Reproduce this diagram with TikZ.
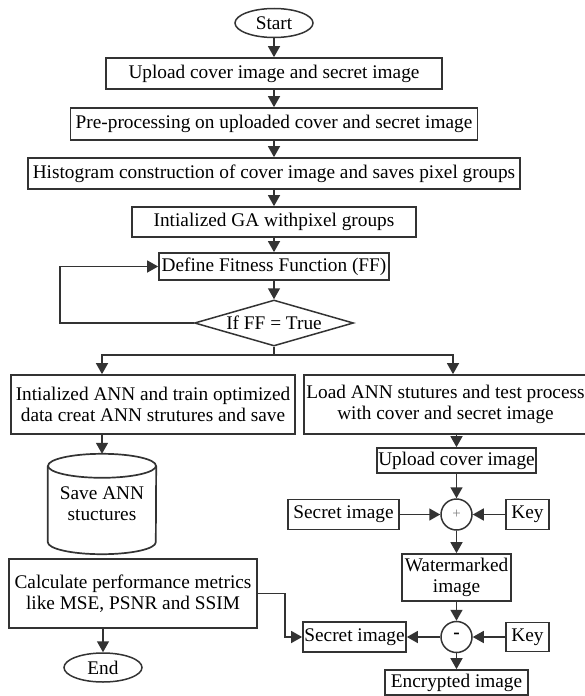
\documentclass[tikz,border=0pt]{standalone}
\usepackage{fontspec}
\setmainfont{Liberation Serif}
\usetikzlibrary{arrows.meta,shapes.geometric}
\definecolor{edge}{HTML}{333333}
\begin{document}
\begin{tikzpicture}[x=1pt,y=-1pt,
  every node/.style={font=\fontsize{19.3}{21}\selectfont, text=black, inner sep=0pt},
  box/.style={draw=edge, line width=1.7pt, rectangle, align=center},
  oval/.style={draw=edge, line width=1.5pt, ellipse},
  ring/.style={draw=edge, line width=1.5pt, circle, minimum size=31pt},
  conn/.style={draw=edge, line width=1.5pt, -{Triangle[length=11pt,width=12pt]}},
  plain/.style={draw=edge, line width=1.5pt}
]
\useasboundingbox (0,0) rectangle (585,696);

% main column
\node[oval, minimum width=78pt, minimum height=29pt] (start) at (274,23) {Start};
\node[box, minimum width=336pt, minimum height=31pt] (up1) at (274,73.5) {Upload cover image and secret image};
\node[box, minimum width=407pt, minimum height=32pt] (pre) at (274,124) {Pre-processing on uploaded cover and secret image};
\node[box, minimum width=492pt, minimum height=31pt] (hist) at (274,173.5) {Histogram construction of cover image and saves pixel groups};
\node[box, minimum width=284pt, minimum height=30pt] (ga) at (274,222) {Intialized GA withpixel groups};
\node[box, minimum width=230pt, minimum height=27pt] (ff) at (274,266.5) {Define Fitness Function (FF)};
\node[draw=edge, line width=1.5pt, diamond, aspect=3.46, minimum width=159pt, minimum height=46pt] (dia) at (274,323) {If FF = True};

% left branch
\node[box, minimum width=284pt, minimum height=59pt] (ann) at (153,404.5) {Intialized ANN and train optimized\\data creat ANN strutures and save};
\node[minimum width=108pt, minimum height=100pt, align=center] (cyl) at (102,504) {Save ANN\\stuctures};
\node[box, minimum width=248pt, minimum height=69pt] (calc) at (133,593.5) {Calculate performance metrics\\like MSE, PSNR and SSIM};
\node[oval, minimum width=78pt, minimum height=29pt] (end) at (103,667.5) {End};

% right branch
\node[box, minimum width=283pt, minimum height=59pt] (load) at (445.5,404.5) {Load ANN stutures and test process\\with cover and secret image};
\node[box, minimum width=159pt, minimum height=25pt] (upc) at (456.5,460.5) {Upload cover image};
\node[ring] (plus) at (456.5,514.5) {\textcolor{gray}{\fontsize{15}{15}\selectfont +}};
\node[box, minimum width=111pt, minimum height=30pt] (sec1) at (343.5,514.5) {Secret image};
\node[box, minimum width=43pt, minimum height=30pt] (key1) at (527.5,514.5) {Key};
\node[box, minimum width=109pt, minimum height=47pt] (wm) at (456.5,577.5) {Watermarked\\image};
\node[ring] (minus) at (456.5,637) {\raisebox{2pt}{\textbf{-}}};
\node[box, minimum width=103pt, minimum height=30pt] (sec2) at (354.5,637) {Secret image};
\node[box, minimum width=43pt, minimum height=29pt] (key2) at (527.5,637) {Key};
\node[box, minimum width=143pt, minimum height=25pt] (enc) at (456.5,682.5) {Encrypted image};

% cylinder outline
\draw[edge, line width=1.7pt] ([yshift=-12pt]cyl.north) ellipse [x radius=54pt, y radius=12pt];
\draw[edge, line width=1.7pt] ([yshift=-12pt]cyl.north west) -- ([yshift=12pt]cyl.south west)
  arc[start angle=180, end angle=360, x radius=54pt, y radius=12pt] -- ([yshift=-12pt]cyl.north east);

% main connectors
\draw[conn] (start) -- (up1);
\draw[conn] (up1) -- (pre);
\draw[conn] (pre) -- (hist);
\draw[conn] (hist) -- (ga);
\draw[conn] (ga) -- (ff);
\draw[conn] (ff) -- (dia);
\coordinate (lp) at (60,323);
\draw[conn] (dia.west) -- (lp) |- (ff.west);

% branch
\coordinate (bl) at (102,355);
\coordinate (br) at (453,355);
\draw[plain] (dia.south) -- (dia.south |- bl);
\draw[plain, line cap=rect] (bl) -- (br);
\draw[conn] (bl) -- (bl |- ann.north);
\draw[conn] (br) -- (br |- load.north);

% left column connectors
\draw[conn] (ann.south -| cyl.north) -- (cyl.north);
\draw[conn] (calc.south -| end.north) -- (end.north);
\coordinate (cj) at (285,593.5);
\draw[conn] (calc.east) -- (cj) |- (sec2.west);

% right column connectors
\draw[conn] (load.south -| upc.north) -- (upc.north);
\draw[conn] (upc) -- (plus);
\draw[conn] (sec1) -- (plus);
\draw[conn] (key1) -- (plus);
\draw[conn] (plus) -- (wm);
\draw[conn] (wm) -- (minus);
\draw[conn] (minus) -- (sec2);
\draw[conn] (key2) -- (minus);
\draw[conn] (minus) -- (enc);
\end{tikzpicture}
\end{document}
